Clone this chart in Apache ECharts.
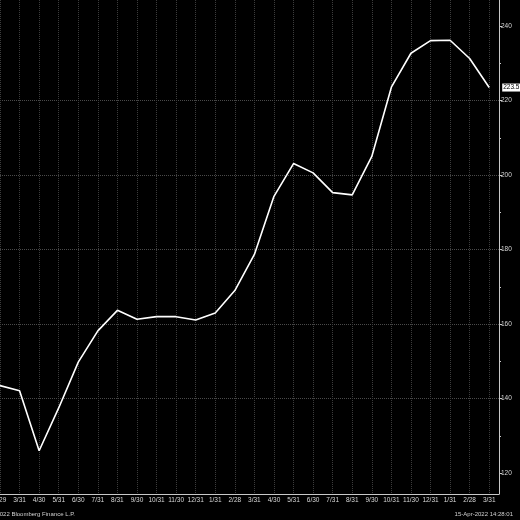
<!DOCTYPE html>
<html><head><meta charset="utf-8">
<script src="https://cdn.jsdelivr.net/npm/echarts@6/dist/echarts.min.js"></script>
<style>html,body{margin:0;padding:0;background:#000}#c{width:520px;height:520px}</style>
</head><body><div id="c"></div>
<script>
const dateLabels = ["2/29","3/31","4/30","5/31","6/30","7/31","8/31","9/30","10/31","11/30","12/31","1/31","2/28",
  "3/31","4/30","5/31","6/30","7/31","8/31","9/30","10/31","11/30","12/31","1/31","2/28","3/31"];
const values = [143.5,142.1,126.0,137.5,149.8,158.2,163.7,161.3,162.0,162.0,161.1,163.0,169.0,
  178.7,194.3,203.1,200.6,195.3,194.7,205.0,223.6,232.7,236.1,236.2,231.3,223.5];
const yTickLabels = [120,140,160,180,200,220,240];
const yMinorTicks = [130,150,170,190,210,230];
const footerLeft = "\u00A92022 Bloomberg Finance L.P.";
const footerRight = "15-Apr-2022 14:28:01";

const FONT = "Liberation Sans";
const Y_MIN = 114.4, Y_MAX = 247;
const chart = echarts.init(document.getElementById('c'), null, {renderer:'canvas'});
chart.setOption({
  backgroundColor:'#000',
  animation:false,
  grid:{left:0,right:21,top:0,bottom:26,outerBoundsMode:'none',containLabel:false},
  xAxis:{
    type:'value', min:0, max:25.5, interval:1,
    axisLine:{show:true,onZero:false,lineStyle:{color:'#c8c8c8',width:1}},
    axisTick:{show:false},
    axisLabel:{color:'#d8d8d8',fontSize:6.5,fontFamily:FONT,margin:3,hideOverlap:false,
      formatter:v=>Number.isInteger(v)?(dateLabels[v]||''):''},
    splitLine:{show:true,lineStyle:{color:'#3c3c3c',type:'dotted',width:1}}
  },
  yAxis:[{
    type:'value', position:'right', min:Y_MIN, max:Y_MAX, splitNumber:7,
    axisLine:{show:true,onZero:false,lineStyle:{color:'#c8c8c8',width:1}},
    axisTick:{show:true,length:3,customValues:yTickLabels,lineStyle:{color:'#c8c8c8'}},
    axisLabel:{customValues:yTickLabels,color:'#d8d8d8',fontSize:6.5,fontFamily:FONT,margin:2},
    splitLine:{show:true,showMinLine:false,showMaxLine:false,lineStyle:{color:'#4a4a4a',type:'dotted',width:1}}
  },{
    type:'value', position:'right', min:Y_MIN, max:Y_MAX,
    axisLine:{show:false,onZero:false},
    axisTick:{show:true,length:2,customValues:yMinorTicks,lineStyle:{color:'#c8c8c8'}},
    axisLabel:{show:false},
    splitLine:{show:false}
  }],
  series:[{
    type:'line',
    yAxisIndex:0,
    data:values.map((v,i)=>[i,v]),
    symbol:'none',
    lineStyle:{color:'#ffffff',width:1.6},
    endLabel:{show:true,formatter:p=>p.value[1].toFixed(1),color:'#000',backgroundColor:'#fff',
      fontSize:6.5,fontFamily:FONT,padding:[1,1,0,1],distance:13}
  }],
  graphic:[
    {type:'text',left:-8,top:511,style:{text:footerLeft,fill:'#d0d0d0',font:'6px "Liberation Sans"'}},
    {type:'text',right:7,top:511,style:{text:footerRight,fill:'#d0d0d0',font:'6px "Liberation Sans"'}}
  ]
});
</script></body></html>
